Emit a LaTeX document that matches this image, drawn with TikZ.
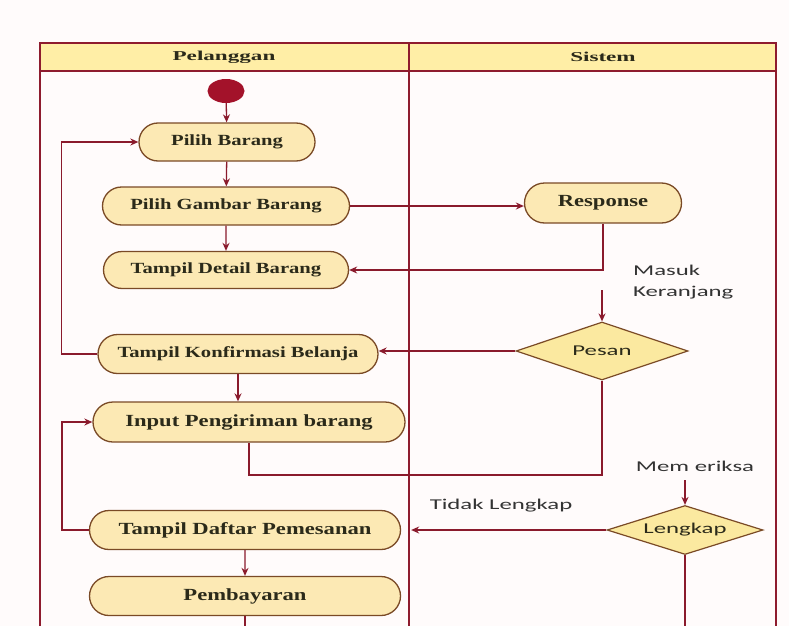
\documentclass[tikz,border=0pt]{standalone}
\usepackage{fontspec}
\setmainfont{Liberation Serif}
\newfontfamily\actfont[FakeStretch=1.33]{Liberation Serif}
\newfontfamily\hdrfont[FakeStretch=1.7]{Liberation Serif}
\newfontfamily\lblfont[FakeStretch=1.65]{Carlito}
\usetikzlibrary{shapes.misc,shapes.geometric,arrows.meta}
\definecolor{framec}{HTML}{8E1B2E}
\definecolor{hdrc}{HTML}{FFEEA6}
\definecolor{actfill}{HTML}{FCE9B4}
\definecolor{decfill}{HTML}{FBE9A0}
\definecolor{actline}{HTML}{7A4A26}
\definecolor{flowc}{HTML}{8A1A2C}
\definecolor{startc}{HTML}{A3122A}
\definecolor{txtc}{HTML}{2B2A1A}
\definecolor{lblc}{HTML}{333333}
\definecolor{bgc}{HTML}{FFFBFB}
\tikzset{
  act/.style={rounded rectangle, draw=actline, fill=actfill, line width=1.3pt,
    inner sep=0pt, text=txtc},
  actsmall/.style={act, font=\actfont\bfseries\fontsize{15.5}{18}\selectfont},
  actbig/.style={act, font=\actfont\bfseries\fontsize{17}{20}\selectfont},
  decision/.style={diamond, aspect=3, draw=actline, fill=decfill, line width=1.2pt,
    inner sep=0pt, text=txtc, font=\lblfont\fontsize{15}{18}\selectfont},
  lbl/.style={text=lblc, inner sep=0pt, font=\lblfont\fontsize{15}{21}\selectfont},
  hdr/.style={inner sep=0pt, text=txtc, font=\hdrfont\bfseries\fontsize{13.6}{16}\selectfont},
  flow/.style={draw=flowc, line width=1.3pt, -{Stealth[length=8pt,width=7pt]}},
  plainflow/.style={draw=flowc, line width=1.3pt},
  framel/.style={draw=framec, line width=2.2pt},
}
\begin{document}
\begin{tikzpicture}[x=1pt,y=-1pt]
\useasboundingbox (0,0) rectangle (789,626);
\fill[bgc] (0,0) rectangle (789,626);
% swimlane frame
\fill[hdrc] (40,43) rectangle (776,71);
\draw[framel] (40,626) -- (40,43) -- (776,43) -- (776,626);
\draw[framel] (40,71) -- (776,71);
\draw[framel] (409,43) -- (409,626);
\node[hdr] (hp) at (224,57) {Pelanggan};
\node[hdr] (hs) at (603,57) {Sistem};
% start
\node[ellipse, fill=startc, minimum width=37pt, minimum height=24pt, inner sep=0pt] (start) at (226,91) {};
% activities
\node[actsmall, minimum width=176pt, minimum height=38pt] (pb) at (227,142) {Pilih Barang};
\node[actsmall, minimum width=247pt, minimum height=38pt] (pgb) at (226,206) {Pilih Gambar Barang};
\node[actsmall, minimum width=245pt, minimum height=37pt] (tdb) at (226,270) {Tampil Detail Barang};
\node[actsmall, minimum width=280pt, minimum height=39pt] (tkb) at (238,354) {Tampil Konfirmasi Belanja};
\node[actbig, minimum width=312pt, minimum height=40pt] (ipb) at (249,422) {Input Pengiriman barang};
\node[actbig, minimum width=311pt, minimum height=39pt] (tdp) at (245,530) {Tampil Daftar Pemesanan};
\node[actbig, minimum width=311pt, minimum height=39pt] (pem) at (245,596) {Pembayaran};
\node[actbig, minimum width=157pt, minimum height=40pt] (resp) at (603,203) {Response};
% decisions
\node[decision, minimum width=172pt, minimum height=58pt] (pesan) at (602,351) {Pesan};
\node[decision, minimum width=156pt, minimum height=49pt] (lengkap) at (685,530) {Lengkap};
% labels
\node[lbl, align=left, anchor=north west] (masuk) at (633,265) {Masuk\\Keranjang};
\node[lbl] (mem) at (695,466) {Mem eriksa};
\node[lbl] (tidak) at (501,506) {Tidak Lengkap};
% helper coordinates
\coordinate (cmasuk) at (602,290);
\coordinate (cmem) at (685,480);
\coordinate (jn) at (602,475);
\coordinate (bot1) at (245,626);
\coordinate (bot2) at (685,626);
% connectors
\draw[flow] (start) -- (pb);
\draw[flow] (pb) -- (pgb);
\draw[flow] (pgb) -- (tdb);
\draw[flow] (pgb.east) -- (resp.west |- pgb.east);
\draw[flow] (resp.south) |- (tdb.east);
\draw[flow] (cmasuk) -- (pesan.north);
\draw[flow] (pesan.west) -- (pesan.west -| tkb.east);
\draw[flow] (tkb.west) -- ++(-36,0) |- (pb.west);
\draw[flow] (tkb.south) -- (tkb.south |- ipb.north);
\draw[plainflow] (pesan.south) |- (ipb.south |- jn) -- (ipb.south);
\draw[flow] (cmem) -- (lengkap.north);
\draw[flow, shorten >=10pt] (lengkap.west) -- (tdp.east);
\draw[flow] (tdp.west) -- ++(-27,0) |- (ipb.west);
\draw[flow] (tdp) -- (pem);
\draw[plainflow] (pem) -- (bot1);
\draw[plainflow] (lengkap.south) -- (bot2);
\end{tikzpicture}
\end{document}
